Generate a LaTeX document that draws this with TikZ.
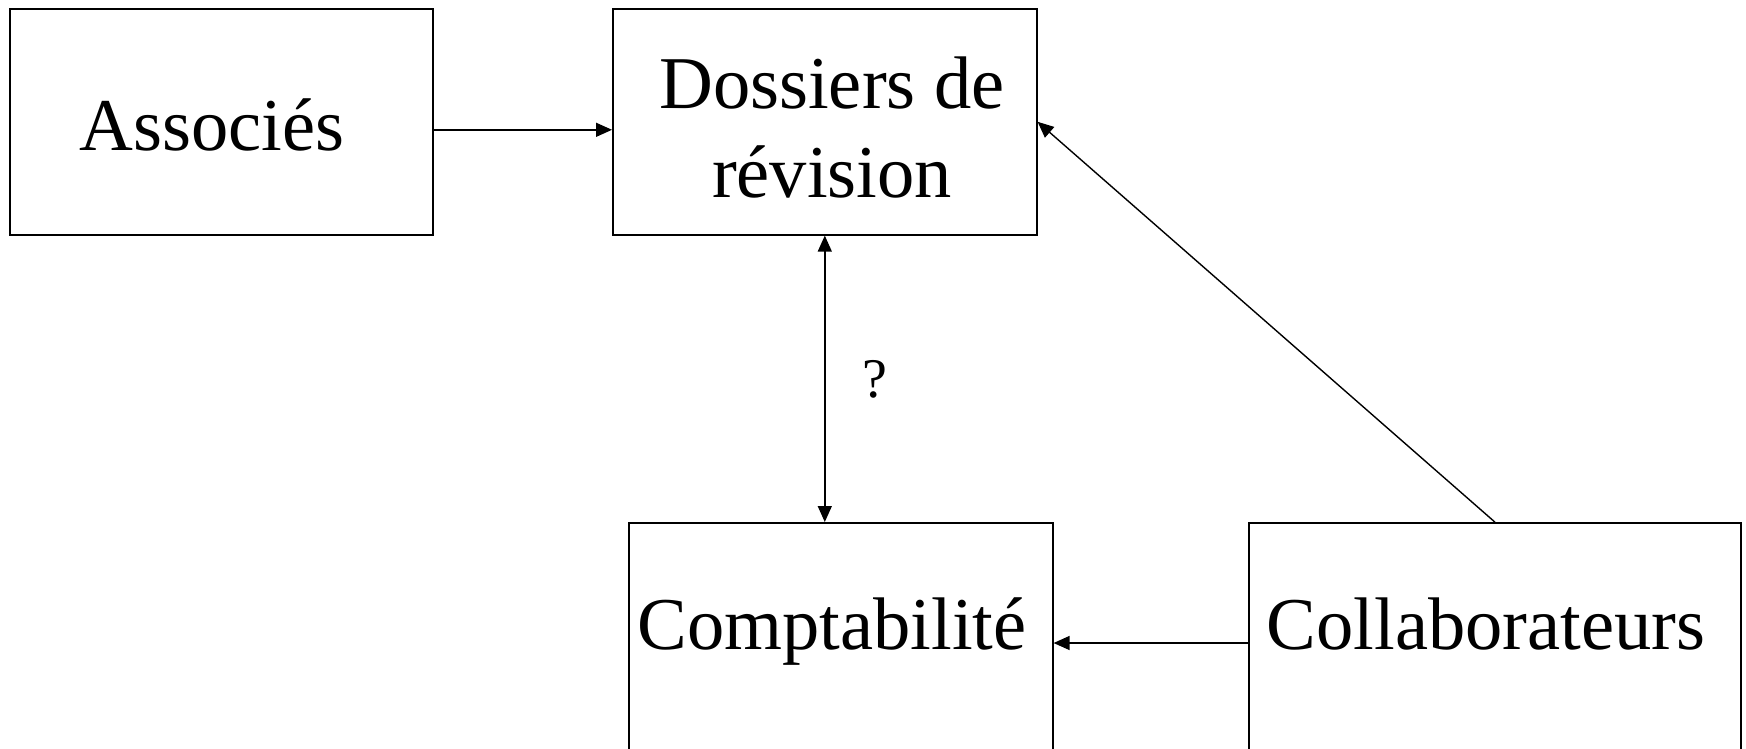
\documentclass[tikz,border=0pt]{standalone}
\usepackage{fontspec}
\setmainfont{Liberation Serif}
\usetikzlibrary{arrows.meta}
\begin{document}
\begin{tikzpicture}[x=1pt,y=-1pt,
  box/.style={draw, line width=1.6pt, rectangle, inner sep=0pt, anchor=north west},
  lbl/.style={font=\fontsize{74.5}{88}\selectfont, inner sep=0pt, anchor=base, align=center},
  conn/.style={line width=1.4pt, -{Triangle[length=16pt,width=14pt]}}]
\useasboundingbox (0,0) rectangle (1746,748);
\clip (0,0) rectangle (1746,748);
\fill[white] (0,0) rectangle (1746,748);
\node[box, minimum width=423pt, minimum height=226pt] (assoc) at (9,8) {};
\node[box, minimum width=424pt, minimum height=226pt] (doss) at (612,8) {};
\node[box, minimum width=424pt, minimum height=260pt] (compta) at (628,522) {};
\node[box, minimum width=492pt, minimum height=260pt] (collab) at (1248,522) {};
\node[lbl] (assocT) at (212,150) {Associés};
\node[lbl] (dossT1) at (832,108) {Dossiers de};
\node[lbl] (dossT2) at (832,197) {révision};
\node[lbl] (comptaT) at (832,649) {Comptabilité};
\node[lbl] (collabT) at (1486,649) {Collaborateurs};
\node[font=\fontsize{56}{64}\selectfont, inner sep=0pt, anchor=base] (q) at (875,397) {?};
\draw[conn] ([yshift=-8pt]assoc.east) -- ([yshift=-8pt]doss.west);
\draw[conn, {Triangle[length=16pt,width=14pt]}-{Triangle[length=16pt,width=14pt]}] (doss.south) -- (doss.south |- compta.north);
\draw[conn] (collab.north) -- (doss.east);
\draw[conn] ([yshift=-121pt]collab.north west) -- ([yshift=-121pt]compta.north east);
\end{tikzpicture}
\end{document}
